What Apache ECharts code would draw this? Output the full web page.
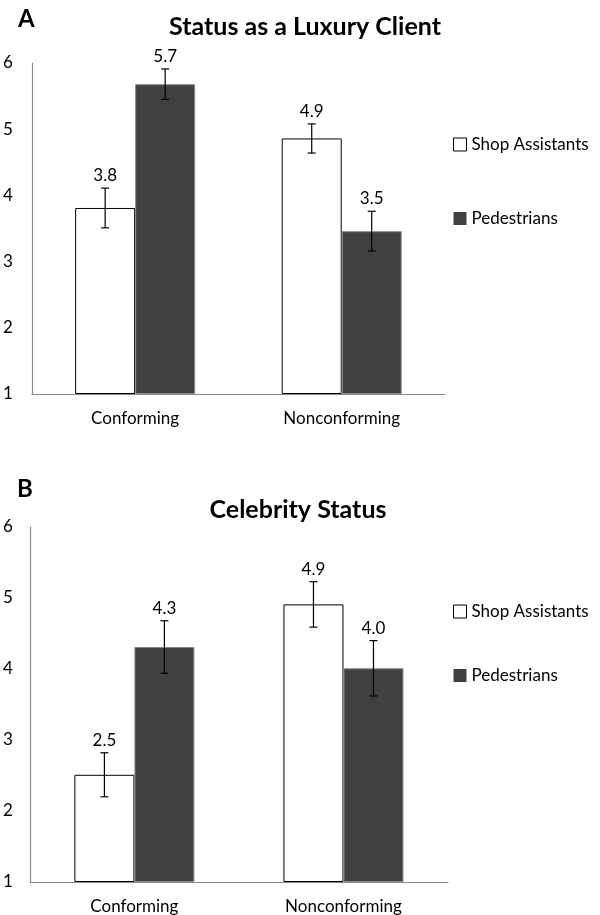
<!DOCTYPE html>
<html>
<head>
<meta charset="utf-8">
<script src="https://cdn.jsdelivr.net/npm/echarts@6/dist/echarts.min.js"></script>
<style>html,body{margin:0;padding:0;background:#fff}#c{width:600px;height:915px}</style>
</head>
<body>
<div id="c"></div>
<script>
var categories = ['Conforming', 'Nonconforming'];
var seriesNames = ['Shop Assistants', 'Pedestrians'];
var yTicks = [1, 2, 3, 4, 5, 6];
// Panel A: Status as a Luxury Client
var aShop = [3.81, 4.86];
var aShopErr = [0.30, 0.22];
var aPed = [5.68, 3.46];
var aPedErr = [0.23, 0.30];
// Panel B: Celebrity Status
var bShop = [2.51, 4.91];
var bShopErr = [0.31, 0.32];
var bPed = [4.31, 4.01];
var bPedErr = [0.37, 0.39];

var FONT = 'Lato';
var BARW = 60;

var chart = echarts.init(document.getElementById('c'), null, {renderer: 'canvas'});

function errSeries(vals, errs, axisIdx, side) {
  return {
    type: 'custom',
    xAxisIndex: axisIdx, yAxisIndex: axisIdx,
    z: 10,
    silent: true,
    data: vals.map(function (v, i) { return [i, v, errs[i]]; }),
    renderItem: function (params, api) {
      var i = api.value(0), v = api.value(1), e = api.value(2);
      var top = api.coord([i, v + e]);
      var bot = api.coord([i, v - e]);
      var x = top[0] + side * BARW / 2;
      var cap = 4;
      return {
        type: 'group',
        children: [
          {type: 'line', shape: {x1: x, y1: top[1], x2: x, y2: bot[1]}, style: {stroke: '#000', lineWidth: 1.2}},
          {type: 'line', shape: {x1: x - cap, y1: top[1], x2: x + cap, y2: top[1]}, style: {stroke: '#000', lineWidth: 1.2}},
          {type: 'line', shape: {x1: x - cap, y1: bot[1], x2: x + cap, y2: bot[1]}, style: {stroke: '#000', lineWidth: 1.2}},
          {type: 'text', style: {text: v.toFixed(1), x: x, y: top[1] - 4, textAlign: 'center', textVerticalAlign: 'bottom', fill: '#000', font: '17px ' + FONT}}
        ]
      };
    }
  };
}

function barSeries(name, vals, axisIdx, dark) {
  return {
    type: 'bar', name: name,
    xAxisIndex: axisIdx, yAxisIndex: axisIdx,
    data: vals,
    barWidth: BARW,
    barGap: '0%',
    clip: true,
    itemStyle: dark ? {color: '#404040', borderColor: '#8a8a8a', borderWidth: 1}
                    : {color: '#ffffff', borderColor: '#000000', borderWidth: 1}
  };
}

function xAx(gi) {
  return {
    type: 'category', gridIndex: gi, data: categories,
    axisLine: {lineStyle: {color: '#8a8a8a', width: 1.2}},
    axisTick: {show: false},
    axisLabel: {color: '#000', fontSize: 17, fontFamily: FONT, margin: 16}
  };
}
function yAx(gi, margin) {
  return {
    type: 'value', gridIndex: gi, min: yTicks[0], max: yTicks[yTicks.length - 1], interval: 1,
    startValue: yTicks[0],
    axisLine: {show: true, lineStyle: {color: '#8a8a8a', width: 1.2}},
    axisTick: {show: false},
    splitLine: {show: false},
    axisLabel: {color: '#000', fontSize: 17, fontFamily: FONT, margin: margin}
  };
}

function legendData() {
  return [
    {name: seriesNames[0], icon: 'rect', itemStyle: {color: '#fff', borderColor: '#000', borderWidth: 1}},
    {name: seriesNames[1], icon: 'rect', itemStyle: {color: '#404040', borderColor: '#404040', borderWidth: 0}}
  ];
}

var titleStyle = function (size) {
  return {fontSize: size, fontWeight: 'bold', fontFamily: FONT, color: '#000'};
};

var option = {
  backgroundColor: '#fff',
  animation: false,
  title: [
    {text: 'A', left: 18, top: 7, padding: 0, textStyle: titleStyle(24)},
    {text: 'Status as a Luxury Client', left: 305, textAlign: 'center', top: 14, padding: 0, textStyle: titleStyle(25)},
    {text: 'B', left: 17, top: 477, padding: 0, textStyle: titleStyle(24)},
    {text: 'Celebrity Status', left: 298, textAlign: 'center', top: 497, padding: 0, textStyle: titleStyle(25)}
  ],
  legend: [
    {orient: 'vertical', left: 453, top: 136, padding: 0, itemWidth: 13, itemHeight: 13, itemGap: 57, itemTextGap: 4,
     textStyle: {fontSize: 17, fontFamily: FONT, color: '#000', lineHeight: 17}, data: legendData(), selectedMode: false},
    {orient: 'vertical', left: 453, top: 603, padding: 0, itemWidth: 13, itemHeight: 13, itemGap: 47, itemTextGap: 4,
     textStyle: {fontSize: 17, fontFamily: FONT, color: '#000', lineHeight: 17}, data: legendData(), selectedMode: false}
  ],
  grid: [
    {left: 27, top: 63, width: 418, height: 331},
    {left: 25, top: 527, width: 423, height: 355}
  ],
  xAxis: [xAx(0), xAx(1)],
  yAxis: [yAx(0, 19), yAx(1, 17)],
  series: [
    barSeries(seriesNames[0], aShop, 0, false),
    barSeries(seriesNames[1], aPed, 0, true),
    errSeries(aShop, aShopErr, 0, -1),
    errSeries(aPed, aPedErr, 0, 1),
    barSeries(seriesNames[0], bShop, 1, false),
    barSeries(seriesNames[1], bPed, 1, true),
    errSeries(bShop, bShopErr, 1, -1),
    errSeries(bPed, bPedErr, 1, 1)
  ]
};
chart.setOption(option);
</script>
</body>
</html>
